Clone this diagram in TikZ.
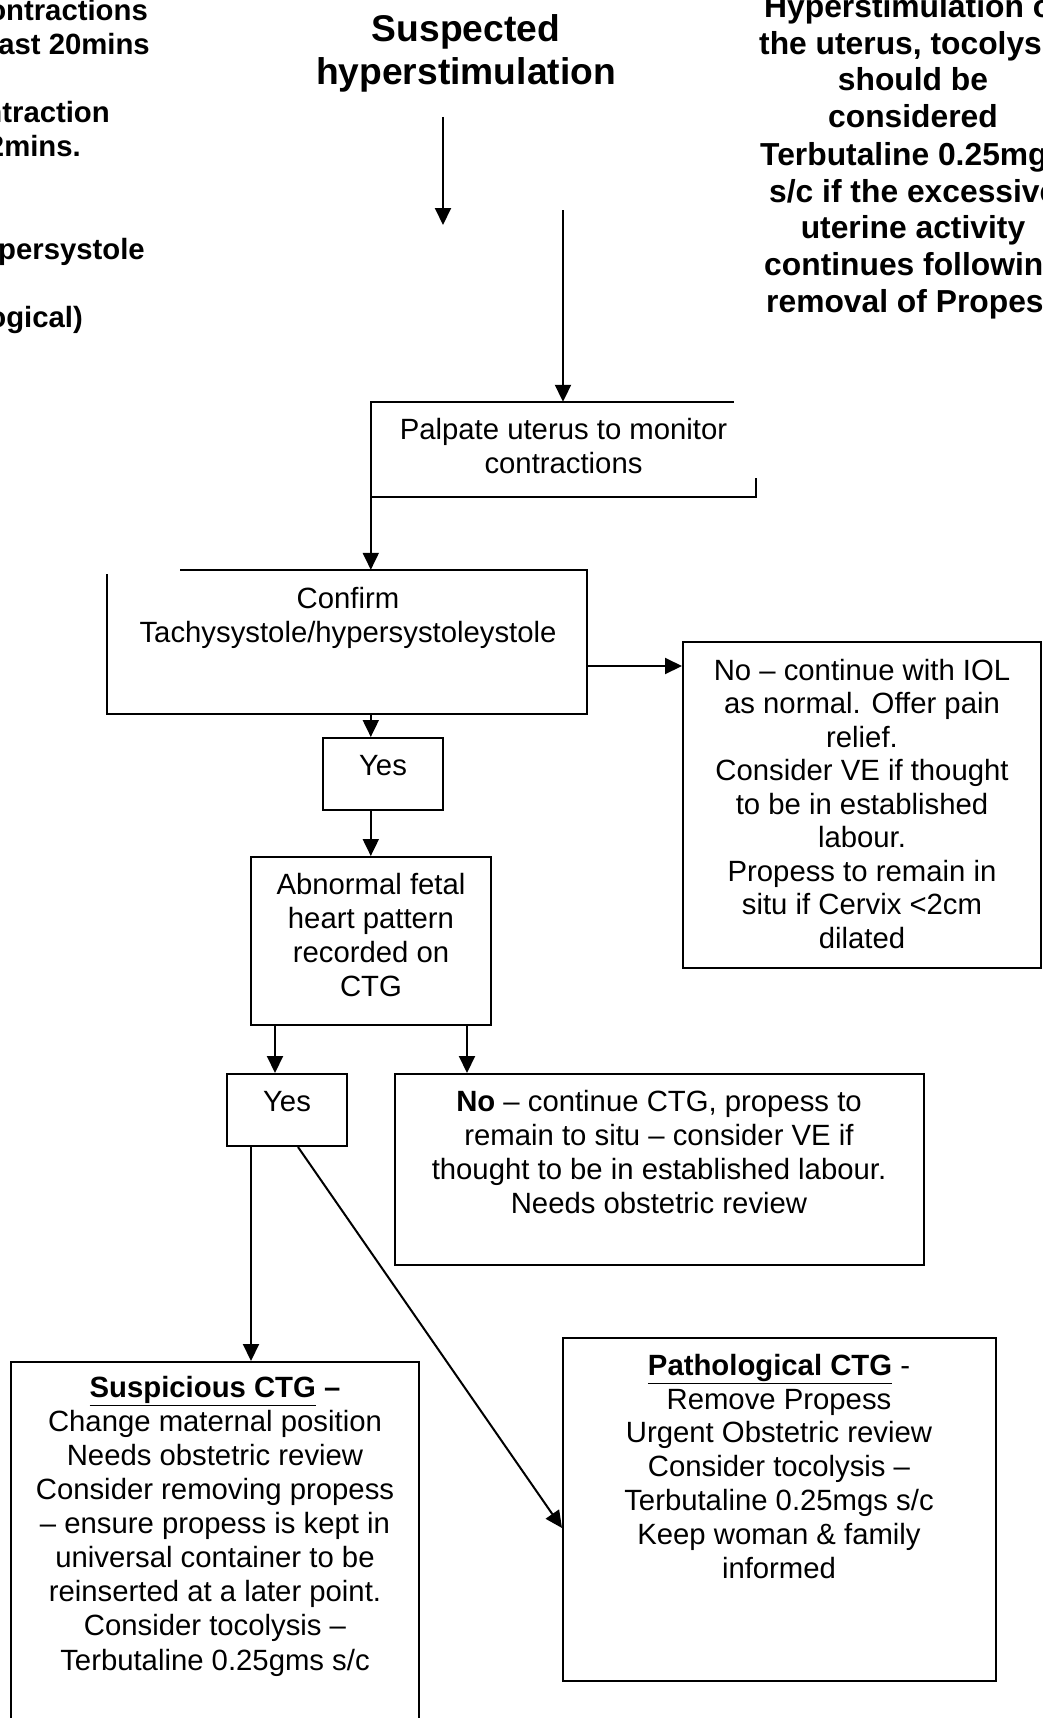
\documentclass[tikz,border=0pt]{standalone}
\usepackage{fontspec}
\setmainfont{Liberation Sans}
\usetikzlibrary{arrows.meta}
\begin{document}
\begin{tikzpicture}[x=1pt,y=-1pt,
  line/.style={line width=2pt,line cap=rect},
  box/.style={draw,line width=2pt,inner sep=0pt},
  nobox/.style={inner sep=0pt},
  arr/.style={line width=2pt,-{Triangle[length=17pt,width=16pt]}},
  body/.style={font=\fontsize{29.3}{33.7}\selectfont,align=center,inner sep=0pt,anchor=base},
  lb/.style={font=\fontsize{29.3}{34}\selectfont\bfseries,inner sep=0pt,anchor=base east},
  rb/.style={font=\fontsize{31.8}{36.7}\selectfont\bfseries,inner sep=0pt,anchor=base west},
  rbc/.style={font=\fontsize{31.8}{36.7}\selectfont\bfseries,inner sep=0pt,anchor=base},
  titlestyle/.style={font=\fontsize{37.2}{43.5}\selectfont\bfseries,align=center,inner sep=0pt,anchor=base}]
\fill[white] (0,0) rectangle (1043,1718);
\useasboundingbox (0,0) rectangle (1043,1718);
\clip (0,0) rectangle (1043,1718);

% left cut-off text
\node[lb] (l1) at (148,21) {ontractions};
\node[lb] (l2) at (150,55) {ast 20mins};
\node[lb] (l3) at (110,123) {ntraction};
\node[lb] (l4) at (81,157) {2mins.};
\node[lb] (l5) at (145,259) {persystole};
\node[lb] (l6) at (83,327) {ogical)};

% right cut-off text
\node[rb] (r1) at (764,18) {Hyperstimulation o};
\node[rb] (r2) at (759,55) {the uterus, tocolys};
\node[rbc] (r3) at (913,91) {should be};
\node[rbc] (r4) at (913,128) {considered};
\node[rb] (r5) at (760,165) {Terbutaline 0.25mg};
\node[rb] (r6) at (769,202) {s/c if the excessive};
\node[rbc] (r7) at (913,238) {uterine activity};
\node[rb] (r8) at (764,275) {continues followin};
\node[rb] (r9) at (766,312) {removal of Propess};

% title (base = last line baseline)
\node[titlestyle] (title) at (466,85) {Suspected\\hyperstimulation};
\coordinate (a1s) at (443,117);
\coordinate (a1e) at (443,225);
\draw[arr] (a1s) -- (a1e);

% palpate
\node[nobox,minimum width=385pt,minimum height=95pt] (palpate) at (563.5,449.5) {};
\node[body] (palpate-t) at (563.5,473) {Palpate uterus to monitor\\contractions};
\draw[line] (palpate.north west) -- ([xshift=-23pt]palpate.north east);
\draw[line] ([yshift=18pt]palpate.south east) -- (palpate.south east) -- (palpate.south west);
\coordinate (s2) at (563,210);
\draw[arr] (s2) -- (s2 |- palpate.north);

% confirm
\node[nobox,minimum width=480pt,minimum height=144pt] (confirm) at (347,642) {};
\node[body,font=\fontsize{29.3}{34}\selectfont] (confirm-t) at (348,642) {Confirm\\Tachysystole/hypersystoleystole};
\draw[line] ([xshift=74pt]confirm.north west) -- (confirm.north east) -- (confirm.south east) -- (confirm.south west) -- ([yshift=-5pt]confirm.north west);
\draw[arr] (palpate.north west) -- (palpate.north west |- confirm.north);

% no1
\node[box,minimum width=358pt,minimum height=326pt] (no1) at (862,805) {};
\node[body,font=\fontsize{29.3}{33.5}\selectfont] (no1-t) at (862,948) {No – continue with IOL\\as normal. Offer pain\\relief.\\Consider VE if thought\\to be in established\\labour.\\Propess to remain in\\situ if Cervix <2cm\\dilated};
\coordinate (h1) at (0,666);
\draw[arr] (confirm.east |- h1) -- (no1.west |- h1);

% yes1
\node[box,minimum width=120pt,minimum height=72pt] (yes1) at (383,774) {};
\node[body] (yes1-t) at (383,775) {Yes};
\draw[arr] (palpate.north west |- confirm.south) -- (palpate.north west |- yes1.north);

% abnormal
\node[box,minimum width=240pt,minimum height=168pt] (abn) at (371,941) {};
\node[body] (abn-t) at (371,996) {Abnormal fetal\\heart pattern\\recorded on\\CTG};
\draw[arr] (palpate.north west |- yes1.south) -- (palpate.north west |- abn.north);

% yes2
\node[box,minimum width=120pt,minimum height=72pt] (yes2) at (287,1110) {};
\node[body] (yes2-t) at (287,1111) {Yes};
\draw[arr] ([xshift=-96pt]abn.south) -- ([xshift=-96pt]abn.south |- yes2.north);

% no2
\node[box,minimum width=529pt,minimum height=191pt] (no2) at (659.5,1169.5) {};
\node[body,font=\fontsize{29.3}{34}\selectfont] (no2-t) at (659,1213) {\textbf{No} – continue CTG, propess to\\remain to situ – consider VE if\\thought to be in established labour.\\Needs obstetric review};
\draw[arr] ([xshift=96pt]abn.south) -- ([xshift=96pt]abn.south |- no2.north);

% suspicious
\node[box,minimum width=408pt,minimum height=420pt] (susp) at (215,1572) {};
\node[body,font=\fontsize{29.3}{34.1}\selectfont] (susp-t) at (215,1670) {\textbf{\underline{Suspicious CTG} –}\\Change maternal position\\Needs obstetric review\\Consider removing propess\\– ensure propess is kept in\\universal container to be\\reinserted at a later point.\\Consider tocolysis –\\Terbutaline 0.25gms s/c};
\draw[arr] ([xshift=-36pt]yes2.south) -- ([xshift=-36pt]yes2.south |- susp.north);

% pathological
\node[box,minimum width=433pt,minimum height=343pt] (path) at (779.5,1509.5) {};
\node[body,font=\fontsize{29.3}{33.8}\selectfont] (path-t) at (779,1578) {\textbf{\underline{Pathological CTG}} -\\Remove Propess\\Urgent Obstetric review\\Consider tocolysis –\\Terbutaline 0.25mgs s/c\\Keep woman \& family\\informed};
\draw[arr] ([xshift=11pt]yes2.south) -- ([yshift=-18.5pt]path.west);
\end{tikzpicture}
\end{document}
